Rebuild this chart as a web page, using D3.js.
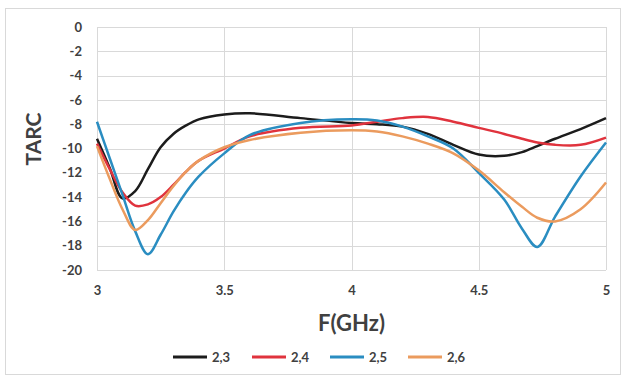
<!DOCTYPE html>
<html>
<head>
<meta charset="utf-8">
<script src="https://cdn.jsdelivr.net/npm/d3@7"></script>
<style>
  body { margin: 0; background: #fff; }
  svg text { font-family: Lato, "Open Sans", sans-serif; font-weight: bold; fill: #404040; }
</style>
</head>
<body>
<div id="chart"></div>
<script>
// frequency samples (GHz)
var freq = [3.0, 3.05, 3.1, 3.15, 3.2, 3.25, 3.3, 3.35, 3.4, 3.5, 3.6, 3.8, 4.0, 4.1, 4.2, 4.3, 4.4, 4.5, 4.6, 4.67, 4.73, 4.8, 4.9, 5.0];

var tarc23 = [-9.2, -11.6, -14.1, -13.5, -11.7, -9.9, -8.8, -8.1, -7.6, -7.2, -7.1, -7.5, -7.9, -8.0, -8.2, -8.8, -9.7, -10.5, -10.6, -10.3, -9.8, -9.2, -8.4, -7.5];
var tarc24 = [-9.6, -11.7, -13.6, -14.7, -14.6, -14.0, -13.0, -11.9, -11.0, -10.0, -9.0, -8.3, -8.1, -7.8, -7.5, -7.4, -7.8, -8.3, -8.8, -9.2, -9.5, -9.7, -9.7, -9.1];
var tarc25 = [-7.8, -10.8, -13.8, -16.8, -18.7, -17.1, -15.2, -13.6, -12.3, -10.4, -8.9, -7.9, -7.6, -7.7, -8.2, -9.0, -10.0, -12.0, -14.2, -16.6, -18.1, -15.6, -12.3, -9.5];
var tarc26 = [-9.8, -12.5, -15.0, -16.7, -15.9, -14.5, -13.1, -11.9, -11.0, -9.9, -9.3, -8.7, -8.5, -8.6, -9.0, -9.6, -10.4, -11.8, -13.6, -14.8, -15.7, -16.0, -15.0, -12.8];

var seriesNames = ["2,3", "2,4", "2,5", "2,6"];
var seriesColors = ["#1c1c1c", "#e0333d", "#2a8dc1", "#eb9b5e"];
var seriesData = [tarc23, tarc24, tarc25, tarc26];

var xTicks = [3, 3.5, 4, 4.5, 5];
var yTicks = [0, -2, -4, -6, -8, -10, -12, -14, -16, -18, -20];

var W = 623, H = 379;
var margin = { top: 27, right: 17, bottom: 109, left: 97 };
var width = W - margin.left - margin.right;
var height = H - margin.top - margin.bottom;

var svg = d3.select("#chart").append("svg")
  .attr("width", W)
  .attr("height", H);

// outer chart frame
svg.append("rect")
  .attr("x", 5.5).attr("y", 8.5)
  .attr("width", 615).attr("height", 366)
  .attr("fill", "none")
  .attr("stroke", "#d9d9d9");

var chart = svg.append("g")
  .attr("transform", "translate(" + margin.left + "," + margin.top + ")");

var xScale = d3.scaleLinear().domain([3, 5]).range([0, width]);
var yScale = d3.scaleLinear().domain([-20, 0]).range([height, 0]);

// gridlines
chart.append("g")
  .selectAll("line")
  .data(yTicks)
  .enter().append("line")
    .attr("x1", 0).attr("x2", width)
    .attr("y1", function(d) { return Math.round(yScale(d)) + 0.5; })
    .attr("y2", function(d) { return Math.round(yScale(d)) + 0.5; })
    .attr("stroke", "#d9d9d9");

chart.append("g")
  .selectAll("line")
  .data(xTicks)
  .enter().append("line")
    .attr("y1", 0).attr("y2", height)
    .attr("x1", function(d) { return Math.round(xScale(d)) + 0.5; })
    .attr("x2", function(d) { return Math.round(xScale(d)) + 0.5; })
    .attr("stroke", "#d9d9d9");

// axes (labels only, Excel style)
var xAxis = chart.append("g")
  .attr("transform", "translate(0," + height + ")")
  .call(d3.axisBottom(xScale).tickValues(xTicks).tickSize(0).tickPadding(16).tickFormat(d3.format("")));
xAxis.select(".domain").remove();
xAxis.selectAll("text").style("font-size", "13px");

var yAxis = chart.append("g")
  .call(d3.axisLeft(yScale).tickValues(yTicks).tickSize(0).tickPadding(15).tickFormat(function(d) { return d === 0 ? "0" : "-" + Math.abs(d); }));
yAxis.select(".domain").remove();
yAxis.selectAll("text").style("font-size", "13px");

// axis titles
svg.append("text")
  .attr("transform", "translate(41," + (margin.top + 112) + ") rotate(-90)")
  .attr("text-anchor", "middle")
  .style("font-size", "21px")
  .text("TARC");

svg.append("text")
  .attr("x", margin.left + width / 2)
  .attr("y", 331)
  .attr("text-anchor", "middle")
  .style("font-size", "22px")
  .text("F(GHz)");

// lines
var line = d3.line()
  .curve(d3.curveCatmullRom.alpha(0.5))
  .x(function(d) { return xScale(d[0]); })
  .y(function(d) { return yScale(d[1]); });

chart.selectAll(".series")
  .data(seriesData)
  .enter().append("path")
    .attr("class", "series")
    .attr("fill", "none")
    .attr("stroke-width", 2.5)
    .attr("stroke", function(d, i) { return seriesColors[i]; })
    .attr("d", function(d) { return line(freq.map(function(f, j) { return [f, d[j]]; })); });

// legend
var legendX = [173, 252, 330, 408];
var legend = svg.selectAll(".legend")
  .data(seriesNames)
  .enter().append("g")
    .attr("class", "legend")
    .attr("transform", function(d, i) { return "translate(" + legendX[i] + ",357)"; });

legend.append("line")
  .attr("x1", 0).attr("x2", 34)
  .attr("stroke-width", 3)
  .attr("stroke", function(d, i) { return seriesColors[i]; });

legend.append("text")
  .attr("x", 39)
  .attr("dy", "0.35em")
  .style("font-size", "13px")
  .text(function(d) { return d; });
</script>
</body>
</html>
